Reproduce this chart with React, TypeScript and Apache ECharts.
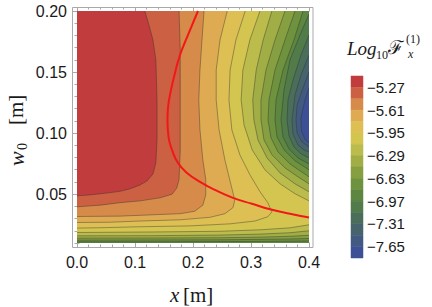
import React, { useEffect, useRef } from 'react';
import * as echarts from 'echarts';

// ---- axis extents / ticks ----
const xRange = [0, 0.4];
const yRange = [0.01, 0.2];
const yMajorTicks = [0.05, 0.1, 0.15, 0.2];

// ---- contour levels (log10 F) ----
const levels = [-5.27, -5.44, -5.61, -5.78, -5.95, -6.12, -6.29, -6.46, -6.63, -6.8, -6.97, -7.14, -7.31, -7.48, -7.65];
const colorbarLabels = [-5.27, -5.61, -5.95, -6.29, -6.63, -6.97, -7.31, -7.65];
const colorbarRange = [-7.82, -5.1];
const bandColors = [
  '#c13c3d', '#cb6142', '#d68b4a', '#dfab52', '#ddbf54', '#d3c54f', '#bbbc4b', '#a1ad45',
  '#869f40', '#6e923e', '#5d8641', '#527b4a', '#4b6e5a', '#47646c', '#425a82', '#3d5096',
];

// ---- contour lines [x, w0] ----
// TL: top edge -> left edge ; TR: top edge -> right edge ; B: left edge -> right edge ; R: right edge -> right edge
const c527 = [[0.117, 0.2], [0.124, 0.1886], [0.131, 0.1763], [0.136, 0.1599], [0.138, 0.1272], [0.138, 0.0944], [0.136, 0.0756], [0.131, 0.0666], [0.121, 0.0609], [0.109, 0.0576], [0.091, 0.0543], [0.074, 0.0523], [0.048, 0.0507], [0.022, 0.0494], [0, 0.0486]];
const c544 = [[0.176, 0.2], [0.178, 0.168], [0.178, 0.127], [0.178, 0.086], [0.176, 0.062], [0.172, 0.055], [0.164, 0.05], [0.143, 0.047], [0.109, 0.0445], [0.074, 0.043], [0.04, 0.041], [0, 0.0396]];
const c561 = [[0.219, 0.2], [0.2155, 0.1763], [0.212, 0.1517], [0.21, 0.127], [0.212, 0.1026], [0.217, 0.078], [0.222, 0.062], [0.222, 0.0494], [0.217, 0.041], [0.203, 0.036], [0.178, 0.034], [0.126, 0.033], [0.074, 0.032], [0, 0.0317]];
const c578 = [[0.259, 0.2], [0.2466, 0.1763], [0.24, 0.1517], [0.24, 0.127], [0.245, 0.1026], [0.255, 0.078], [0.2655, 0.0576], [0.272, 0.0453], [0.269, 0.039], [0.255, 0.034], [0.229, 0.031], [0.178, 0.029], [0.109, 0.028], [0.057, 0.027], [0, 0.0268]];
const c595 = [[0.29, 0.2], [0.274, 0.1763], [0.264, 0.1517], [0.262, 0.127], [0.267, 0.1026], [0.281, 0.082], [0.298, 0.066], [0.3155, 0.052], [0.329, 0.043], [0.336, 0.0355], [0.329, 0.0315], [0.307, 0.028], [0.264, 0.0257], [0.195, 0.024], [0.109, 0.0233], [0.04, 0.0225], [0, 0.0222]];
const c612top = [[0.3155, 0.2], [0.298, 0.1763], [0.286, 0.1517], [0.283, 0.1272], [0.288, 0.1067], [0.302, 0.0863], [0.324, 0.0699], [0.35, 0.0585], [0.376, 0.0503], [0.4, 0.0445]];
const c612bot = [[0, 0.0186], [0.126, 0.019], [0.2466, 0.0196], [0.3155, 0.0208], [0.367, 0.0224], [0.4, 0.0249]];
const c629top = [[0.336, 0.2], [0.321, 0.1763], [0.309, 0.1517], [0.303, 0.1272], [0.305, 0.1108], [0.312, 0.0944], [0.3276, 0.0797], [0.35, 0.0674], [0.376, 0.0584], [0.4, 0.0519]];
const c629bot = [[0, 0.0159], [0.126, 0.016], [0.2466, 0.0165], [0.3155, 0.0173], [0.367, 0.0184], [0.4, 0.02]];
const c646top = [[0.3586, 0.2], [0.3414, 0.1763], [0.3259, 0.1517], [0.3172, 0.1272], [0.3172, 0.1108], [0.3224, 0.0944], [0.3362, 0.0822], [0.3586, 0.0715], [0.381, 0.0642], [0.4, 0.0584]];
const c646bot = [[0, 0.014], [0.126, 0.0141], [0.2466, 0.0143], [0.3155, 0.0148], [0.367, 0.0155], [0.4, 0.0163]];
const c663top = [[0.3759, 0.2], [0.3586, 0.1763], [0.3414, 0.1517], [0.331, 0.1272], [0.3293, 0.1108], [0.3345, 0.096], [0.3466, 0.0846], [0.3672, 0.0748], [0.3845, 0.0691], [0.4, 0.0642]];
const c663bot = [[0, 0.0124], [0.126, 0.0125], [0.2466, 0.0126], [0.3155, 0.013], [0.367, 0.0133], [0.4, 0.0137]];
const c680top = [[0.3897, 0.2], [0.3741, 0.1763], [0.3552, 0.1517], [0.3431, 0.1272], [0.3414, 0.1108], [0.3448, 0.0969], [0.3569, 0.0863], [0.3759, 0.0773], [0.4, 0.0699]];
const c680bot = [[0, 0.011], [0.126, 0.011], [0.2466, 0.0112], [0.3155, 0.0113], [0.367, 0.0115], [0.4, 0.0117]];
const c697 = [[0.4, 0.1975], [0.3845, 0.1804], [0.3672, 0.1599], [0.3569, 0.1354], [0.3517, 0.1108], [0.3552, 0.0969], [0.3655, 0.0871], [0.381, 0.0797], [0.4, 0.0748]];
const c714 = [[0.4, 0.1804], [0.3862, 0.164], [0.3724, 0.1435], [0.3638, 0.1272], [0.3621, 0.1108], [0.3655, 0.0977], [0.3741, 0.0887], [0.3862, 0.083], [0.4, 0.0797]];
const c731 = [[0.4, 0.164], [0.3862, 0.1476], [0.3759, 0.1313], [0.3707, 0.1108], [0.3724, 0.0993], [0.381, 0.0903], [0.3914, 0.0862], [0.4, 0.0846]];
const c748 = [[0.4, 0.1501], [0.3897, 0.137], [0.3795, 0.1231], [0.3776, 0.1108], [0.3795, 0.1], [0.3879, 0.0928], [0.4, 0.0885]];
const c765 = [[0.4, 0.137], [0.393, 0.127], [0.386, 0.1124], [0.387, 0.1015], [0.393, 0.095], [0.4, 0.092]];

// ---- red curve ----
const curveX = [0.2086, 0.1914, 0.1776, 0.169, 0.1621, 0.1569, 0.156, 0.1578, 0.1638, 0.1741, 0.1897, 0.2121, 0.2379, 0.269, 0.3017, 0.3328, 0.3672, 0.4];
const curveW = [0.2, 0.1804, 0.164, 0.1493, 0.1354, 0.1206, 0.1108, 0.0969, 0.0863, 0.0756, 0.0674, 0.0601, 0.0535, 0.047, 0.0421, 0.0376, 0.0339, 0.0309];

// level index (into levels), kind, points
const contourTable: [number, string, number[][]][] = [
  [0, 'TL', c527], [1, 'TL', c544], [2, 'TL', c561], [3, 'TL', c578], [4, 'TL', c595],
  [5, 'TR', c612top], [5, 'B', c612bot], [6, 'TR', c629top], [6, 'B', c629bot],
  [7, 'TR', c646top], [7, 'B', c646bot], [8, 'TR', c663top], [8, 'B', c663bot],
  [9, 'TR', c680top], [9, 'B', c680bot],
  [10, 'R', c697], [11, 'R', c714], [12, 'R', c731], [13, 'R', c748], [14, 'R', c765],
];

const TICK = '#a9a9a9';
const LABEL = '#1a1a1a';
const SANS = 'Liberation Sans, Arial, sans-serif';
const SERIF = 'Liberation Serif, Times New Roman, serif';

export default function App() {
  const ref = useRef<HTMLDivElement>(null);
  useEffect(() => {
    if (!ref.current) return;
    const chart = echarts.init(ref.current, null, { renderer: 'svg' });
    const [x0, x1] = xRange;
    const [y0, y1] = yRange;
    const bandEdges = [colorbarRange[1], ...levels, colorbarRange[0]];
    const bands = bandColors.map((c, i) => [bandEdges[i + 1], bandEdges[i], i]);

    const xAxisBase = (pos: string, interval: number, len: number, labels: boolean) => ({
      gridIndex: 0, type: 'value', min: x0, max: x1, interval, position: pos, offset: 4,
      axisLine: { show: false }, splitLine: { show: false },
      axisTick: { show: true, inside: true, length: len, lineStyle: { color: TICK, width: 1 } },
      axisLabel: labels
        ? { show: true, fontSize: 16, color: LABEL, fontFamily: SANS, margin: 7, formatter: (v: number) => v.toFixed(1) }
        : { show: false },
    });
    const yMinor = (pos: string) => ({
      gridIndex: 0, type: 'value', min: y0, max: y1, interval: 0.01, position: pos, offset: 4,
      axisLine: { show: false }, splitLine: { show: false },
      axisTick: { show: true, inside: true, length: 2.5, lineStyle: { color: TICK, width: 1 } },
      axisLabel: { show: false },
    });
    const yMajor = (pos: string, labels: boolean) => ({
      gridIndex: 0, type: 'value', min: y0, max: y1, position: pos, offset: 4,
      axisLine: { show: false }, splitLine: { show: false },
      axisTick: { show: true, inside: true, length: 4.5, customValues: yMajorTicks, lineStyle: { color: TICK, width: 1 } },
      axisLabel: labels
        ? { show: true, customValues: yMajorTicks, fontSize: 16, color: LABEL, fontFamily: SANS, margin: 6, formatter: (v: number) => v.toFixed(2) }
        : { show: false },
    });

    const option: any = {
      animation: false,
      backgroundColor: '#ffffff',
      grid: [
        { left: 77, top: 11, right: 123, bottom: 64 },
        { left: 351, top: 76, width: 12, height: 182 },
      ],
      xAxis: [
        xAxisBase('bottom', 0.1, 4.5, true),
        xAxisBase('bottom', 0.02, 2.5, false),
        xAxisBase('top', 0.1, 4.5, false),
        xAxisBase('top', 0.02, 2.5, false),
        { gridIndex: 1, type: 'value', min: 0, max: 1, show: false },
      ],
      yAxis: [
        yMajor('left', true),
        yMinor('left'),
        yMajor('right', false),
        yMinor('right'),
        {
          gridIndex: 1, type: 'value', min: colorbarRange[0], max: colorbarRange[1], position: 'right',
          axisLine: { show: false }, splitLine: { show: false },
          axisTick: { show: true, length: 3, customValues: colorbarLabels, lineStyle: { color: '#cfcfcf' } },
          axisLabel: {
            show: true, customValues: colorbarLabels, fontSize: 15, color: LABEL, fontFamily: SANS, margin: 4,
            formatter: (v: number) => '\u2212' + Math.abs(v).toFixed(2),
          },
        },
      ],
      series: [
        {
          type: 'custom', xAxisIndex: 0, yAxisIndex: 0, clip: true, z: 1,
          data: [[x0, y0]],
          renderItem: (_p: any, api: any) => {
            const toPx = (p: number[]) => api.coord(p);
            const children: any[] = [];
            children.push({
              type: 'polygon',
              shape: { points: [[x0, y0], [x1, y0], [x1, y1], [x0, y1]].map(toPx) },
              style: { fill: bandColors[0] },
            });
            contourTable.forEach(([lv, kind, pts]) => {
              let closing: number[][] = [];
              if (kind === 'TL') closing = [[x0, y0], [x1, y0], [x1, y1]];
              else if (kind === 'TR') closing = [[x1, y1]];
              else if (kind === 'B') closing = [[x1, y0], [x0, y0]];
              children.push({
                type: 'polygon',
                shape: { points: pts.concat(closing).map(toPx) },
                style: { fill: bandColors[lv + 1] },
              });
            });
            contourTable.forEach(([, , pts]) => {
              children.push({
                type: 'polyline',
                shape: { points: pts.map(toPx) },
                style: { stroke: 'rgba(45,45,45,0.5)', lineWidth: 0.8, fill: 'none' },
              });
            });
            return { type: 'group', children };
          },
        },
        {
          type: 'line', xAxisIndex: 0, yAxisIndex: 0, z: 5, smooth: true, showSymbol: false, clip: true,
          lineStyle: { color: '#f21818', width: 2 },
          data: curveX.map((x, i) => [x, curveW[i]]),
        },
        {
          type: 'custom', xAxisIndex: 4, yAxisIndex: 4, z: 1,
          data: bands,
          renderItem: (_p: any, api: any) => {
            const lo = api.value(0);
            const hi = api.value(1);
            const idx = api.value(2);
            const a = api.coord([0, hi]);
            const b = api.coord([1, lo]);
            return {
              type: 'rect',
              shape: { x: a[0], y: a[1], width: b[0] - a[0], height: b[1] - a[1] },
              style: { fill: bandColors[idx], stroke: bandColors[idx], lineWidth: 0.5 },
            };
          },
        },
      ],
      graphic: [
        {
          type: 'rect', silent: true, z: 10,
          shape: { x: 72.5, y: 7.5, width: 240.5, height: 240 },
          style: { fill: 'none', stroke: TICK, lineWidth: 1 },
        },
        // x axis title
        { type: 'text', x: 170, y: 295, style: { text: 'x', font: `italic 21px ${SERIF}`, fill: LABEL, verticalAlign: 'middle' } },
        { type: 'text', x: 183, y: 295, style: { text: '[m]', font: `21px ${SERIF}`, fill: LABEL, verticalAlign: 'middle' } },
        // y axis title (rotated)
        {
          type: 'group', x: 16, y: 128, rotation: Math.PI / 2,
          children: [
            { type: 'text', x: -38, y: 0, style: { text: 'w', font: `italic 22px ${SERIF}`, fill: LABEL, verticalAlign: 'middle' } },
            { type: 'text', x: -22, y: 6, style: { text: '0', font: `14px ${SERIF}`, fill: LABEL, verticalAlign: 'middle' } },
            { type: 'text', x: 3, y: 0, style: { text: '[m]', font: `21px ${SERIF}`, fill: LABEL, verticalAlign: 'middle' } },
          ],
        },
        // colorbar title
        { type: 'text', x: 347, y: 48, style: { text: 'Log', font: `italic 19px ${SERIF}`, fill: LABEL, verticalAlign: 'middle' } },
        { type: 'text', x: 376, y: 55, style: { text: '10', font: `12px ${SERIF}`, fill: LABEL, verticalAlign: 'middle' } },
        { type: 'text', x: 388, y: 47, style: { text: '\u2131', font: `19px DejaVu Serif, serif`, fill: LABEL, verticalAlign: 'middle' } },
        { type: 'text', x: 406, y: 39, style: { text: '(1)', font: `12px ${SERIF}`, fill: LABEL, verticalAlign: 'middle' } },
        { type: 'text', x: 408, y: 54, style: { text: 'x', font: `italic 12px ${SERIF}`, fill: LABEL, verticalAlign: 'middle' } },
      ],
    };
    chart.setOption(option);
    return () => chart.dispose();
  }, []);
  return <div ref={ref} style={{ position: 'fixed', left: 0, top: 0, width: 432, height: 307, background: '#fff' }} />;
}
